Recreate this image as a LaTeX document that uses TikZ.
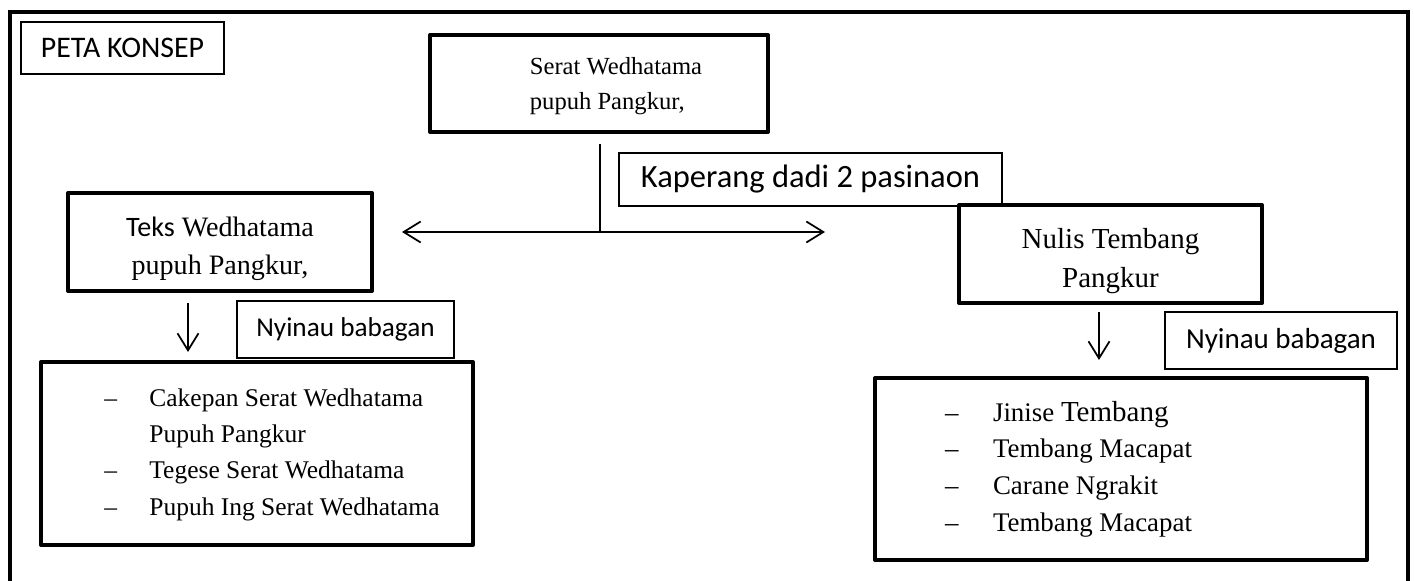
\documentclass[tikz,border=0pt]{standalone}
\usepackage{fontspec}
\setmainfont{Liberation Serif}
\newfontfamily\calibri{Carlito}
\usetikzlibrary{arrows.meta}

\begin{document}
\begin{tikzpicture}[x=0.02cm,y=-0.02cm,
  thickbox/.style={draw,line width=0.08cm,line join=round,inner sep=0pt},
  thinbox/.style={draw,line width=0.8pt,inner sep=0pt},
  link/.style={line width=1pt},
  tip/.style={-{Straight Barb[length=0.34cm,width=0.42cm,line width=1pt]}}]
\useasboundingbox (0,0) rectangle (1414,581);

\draw[line width=0.09cm] (10,640) -- (10,12) -- (1408,12) -- (1408,640); %frame

\node[thinbox,minimum width=4.06cm,minimum height=1.04cm,font=\calibri\fontsize{17}{20}\selectfont] (judul) at (122.5,48) {PETA KONSEP};

\node[thickbox,minimum width=6.76cm,minimum height=1.94cm,align=left,font=\fontsize{14}{20}\selectfont] (serat) at (599,83.5) {\rule{0pt}{0.46cm}\hspace*{0.68cm}Serat Wedhatama\\\hspace*{0.68cm}pupuh Pangkur,}; %top box
\node[thinbox,minimum width=7.66cm,minimum height=1.06cm,font=\calibri\fontsize{18.5}{22}\selectfont] (kaperang) at (810.5,179.5) {Kaperang dadi 2 pasinaon};

\node[thickbox,minimum width=6.08cm,minimum height=1.96cm,align=center,font=\fontsize{16}{22}\selectfont] (teks) at (220,242) {\rule{0pt}{0.66cm}{\calibri Teks} Wedhatama\\pupuh Pangkur,}; %left branch
\node[thickbox,minimum width=6.06cm,minimum height=1.96cm,align=center,font=\fontsize{16.5}{22}\selectfont] (nulis) at (1110.5,254) {\rule{0pt}{0.68cm}Nulis Tembang\\Pangkur}; %right branch

\node[thinbox,minimum width=4.34cm,minimum height=1.14cm,font=\calibri\fontsize{15.5}{19}\selectfont] (nyinaukiri) at (345.5,329.5) {Nyinau babagan};
\node[thinbox,minimum width=4.64cm,minimum height=1.14cm,font=\calibri\fontsize{16.5}{19}\selectfont] (nyinautengen) at (1281,340.5) {Nyinau babagan};

\node[thickbox,minimum width=8.64cm,minimum height=3.66cm,font=\fontsize{14.5}{20.7}\selectfont] (isikiri) at (257,453.5) {%
\begin{tabular}{@{}p{0.9cm}@{}l@{\hspace{-0.6cm}}}
–&Cakepan Serat Wedhatama\\
&Pupuh Pangkur\\
–&Tegese Serat Wedhatama\\
–&Pupuh Ing Serat Wedhatama
\end{tabular}}; %left list
\node[thickbox,minimum width=9.84cm,minimum height=3.64cm,font=\fontsize{15.3}{21}\selectfont] (isitengen) at (1121,469) {%
\begin{tabular}{@{}p{0.96cm}@{}l@{\hspace{2.1cm}}}
–&Jinise {\fontsize{16.5}{21}\selectfont Tembang}\\
–&Tembang Macapat\\
–&Carane Ngrakit\\
–&Tembang Macapat
\end{tabular}}; %right list

\coordinate (pucuk) at (600,144);
\coordinate (cabang) at (600,232);
\coordinate (panahkiri) at (402,232);
\coordinate (panahtengen) at (825,232);
\draw[link] (pucuk) -- (cabang);
\draw[link,tip] (cabang) -- (panahkiri);
\draw[link,tip] (cabang) -- (panahtengen);

\coordinate (mudhunkiri1) at (188,303);
\coordinate (mudhunkiri2) at (188,352);
\coordinate (mudhuntengen1) at (1099,312);
\coordinate (mudhuntengen2) at (1099,360);
\draw[link,tip] (mudhunkiri1) -- (mudhunkiri2);
\draw[link,tip] (mudhuntengen1) -- (mudhuntengen2);
\end{tikzpicture}
\end{document}
